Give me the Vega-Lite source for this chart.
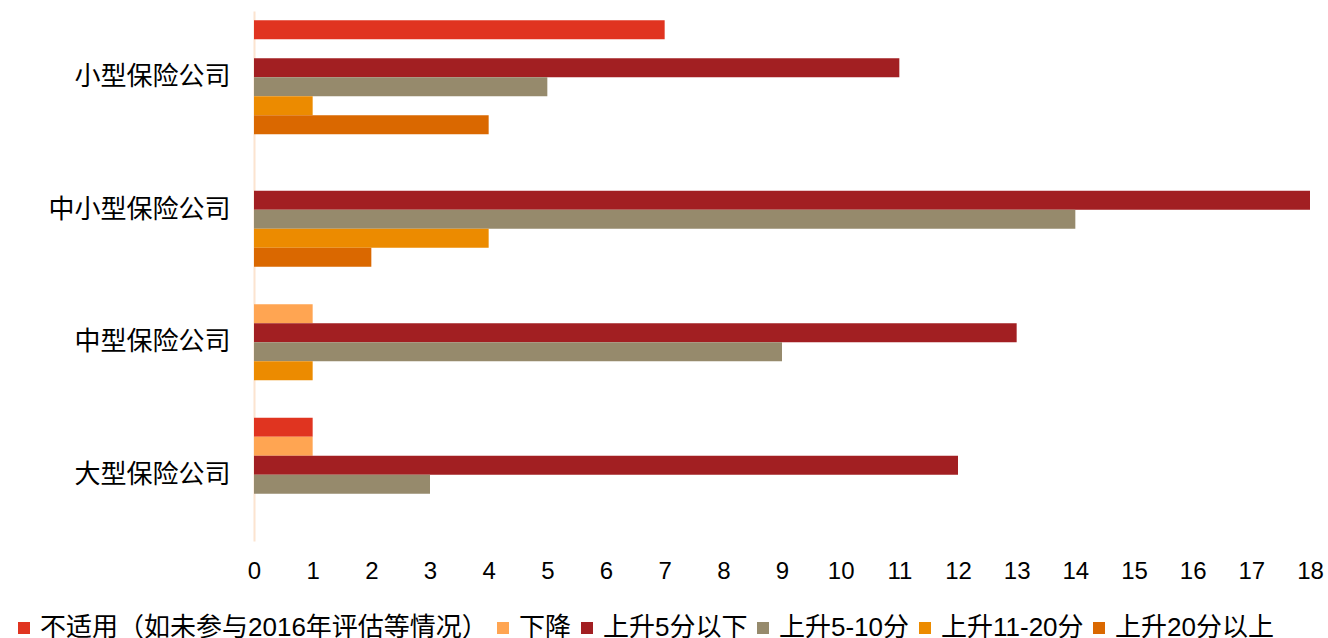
{
  "$schema": "https://vega.github.io/schema/vega-lite/v6.json",
  "autosize": {"type": "none"},
  "width": 1056,
  "height": 530,
  "padding": {"left": 254, "top": 11, "right": 18, "bottom": 97},
  "background": "white",
  "config": {"view": {"stroke": null}},
  "data": {"values": [
    {"category": "小型保险公司", "series": "不适用（如未参与2016年评估等情况）", "value": 7},
    {"category": "小型保险公司", "series": "下降", "value": 0},
    {"category": "小型保险公司", "series": "上升5分以下", "value": 11},
    {"category": "小型保险公司", "series": "上升5-10分", "value": 5},
    {"category": "小型保险公司", "series": "上升11-20分", "value": 1},
    {"category": "小型保险公司", "series": "上升20分以上", "value": 4},
    {"category": "中小型保险公司", "series": "不适用（如未参与2016年评估等情况）", "value": 0},
    {"category": "中小型保险公司", "series": "下降", "value": 0},
    {"category": "中小型保险公司", "series": "上升5分以下", "value": 18},
    {"category": "中小型保险公司", "series": "上升5-10分", "value": 14},
    {"category": "中小型保险公司", "series": "上升11-20分", "value": 4},
    {"category": "中小型保险公司", "series": "上升20分以上", "value": 2},
    {"category": "中型保险公司", "series": "不适用（如未参与2016年评估等情况）", "value": 0},
    {"category": "中型保险公司", "series": "下降", "value": 1},
    {"category": "中型保险公司", "series": "上升5分以下", "value": 13},
    {"category": "中型保险公司", "series": "上升5-10分", "value": 9},
    {"category": "中型保险公司", "series": "上升11-20分", "value": 1},
    {"category": "中型保险公司", "series": "上升20分以上", "value": 0},
    {"category": "大型保险公司", "series": "不适用（如未参与2016年评估等情况）", "value": 1},
    {"category": "大型保险公司", "series": "下降", "value": 1},
    {"category": "大型保险公司", "series": "上升5分以下", "value": 12},
    {"category": "大型保险公司", "series": "上升5-10分", "value": 3},
    {"category": "大型保险公司", "series": "上升11-20分", "value": 0},
    {"category": "大型保险公司", "series": "上升20分以上", "value": 0}
  ]},
  "mark": {"type": "bar"},
  "encoding": {
    "y": {
      "field": "category", "type": "nominal",
      "sort": ["小型保险公司", "中小型保险公司", "中型保险公司", "大型保险公司"],
      "scale": {"paddingInner": 0.14, "paddingOuter": 0.07},
      "axis": {
        "title": null, "ticks": false, "domainColor": "#FCE4D0", "domainWidth": 2,
        "labelFont": "Noto Sans CJK SC", "labelFontSize": 26, "labelColor": "#000000",
        "labelPadding": 24, "labelLimit": 300
      }
    },
    "yOffset": {
      "field": "series", "type": "nominal",
      "sort": ["不适用（如未参与2016年评估等情况）", "下降", "上升5分以下", "上升5-10分", "上升11-20分", "上升20分以上"],
      "scale": {"paddingInner": 0, "paddingOuter": 0}
    },
    "x": {
      "field": "value", "type": "quantitative",
      "scale": {"domain": [0, 18], "nice": false},
      "axis": {
        "title": null, "values": [0,1,2,3,4,5,6,7,8,9,10,11,12,13,14,15,16,17,18],
        "grid": false, "ticks": false, "domain": false,
        "labelFont": "Liberation Sans", "labelFontSize": 24, "labelColor": "#000000",
        "labelPadding": 18, "labelFlush": false
      }
    },
    "color": {
      "field": "series", "type": "nominal",
      "sort": ["不适用（如未参与2016年评估等情况）", "下降", "上升5分以下", "上升5-10分", "上升11-20分", "上升20分以上"],
      "scale": {
        "domain": ["不适用（如未参与2016年评估等情况）", "下降", "上升5分以下", "上升5-10分", "上升11-20分", "上升20分以上"],
        "range": ["#E03420", "#FFA552", "#A21F22", "#968A6C", "#EC8B00", "#DA6800"]
      },
      "legend": {
        "title": null, "orient": "none", "direction": "horizontal", "columns": 6,
        "legendX": -243, "legendY": 604, "padding": 0,
        "symbolType": "square", "symbolSize": 144, "symbolStrokeWidth": 0,
        "labelFont": "Liberation Sans, Noto Sans CJK SC", "labelFontSize": 26, "labelColor": "#000000",
        "labelOffset": 3, "columnPadding": 2, "labelLimit": 600
      }
    }
  }
}
